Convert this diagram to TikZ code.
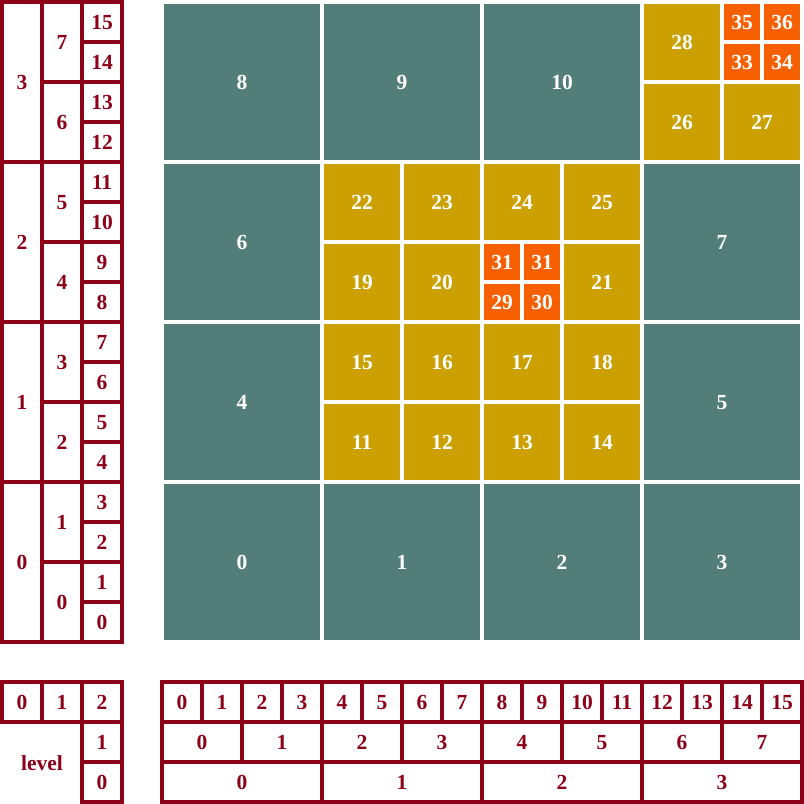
\documentclass[tikz,border=0pt]{standalone}
\usepackage{fontspec}
\setmainfont{Liberation Serif}
\definecolor{qtRed}{RGB}{140,0,24}
\definecolor{qtTeal}{RGB}{82,125,120}
\definecolor{qtGold}{RGB}{204,160,0}
\definecolor{qtOrange}{RGB}{246,96,0}

\begin{document}
\begin{tikzpicture}[
  x=1pt, y=-1pt,
  font=\fontsize{21.5}{25}\selectfont\bfseries,
  quad/.style={rectangle, draw=white, line width=3.6pt, text=white, inner sep=0pt,
    text height=15.5pt, text depth=0pt},
  q160/.style={quad, fill=qtTeal, minimum size=160pt},
  q80/.style={quad, fill=qtGold, minimum size=80pt},
  q40/.style={quad, fill=qtOrange, minimum size=40pt},
  idx/.style={rectangle, draw=qtRed, line width=3.6pt, text=qtRed, inner sep=0pt,
    text height=15.5pt, text depth=0pt, minimum width=40pt, minimum height=40pt},
]
\useasboundingbox (0,0) rectangle (804,804);

% --- Level columns, left ---------------------------------------------------
\foreach \k in {0,...,15}
  \node[idx] (lvc-\k) at (102,{622-40*\k}) {\k};
\foreach \k in {0,...,7}
  \node[idx, minimum height=80pt] (lvb-\k) at (62,{602-80*\k}) {\k};
\foreach \k in {0,...,3}
  \node[idx, minimum height=160pt] (lva-\k) at (22,{562-160*\k}) {\k};

% --- Quadtree cells --------------------------------------------------------
\foreach \n/\x/\y in {8/242/82, 9/402/82, 10/562/82, 6/242/242, 7/722/242,
                      4/242/402, 5/722/402, 0/242/562, 1/402/562, 2/562/562, 3/722/562}
  \node[q160] (c\n) at (\x,\y) {\n};
\foreach \n/\x/\y in {28/682/42, 26/682/122, 27/762/122,
                      22/362/202, 23/442/202, 19/362/282, 20/442/282,
                      24/522/202, 25/602/202, 21/602/282,
                      15/362/362, 16/442/362, 11/362/442, 12/442/442,
                      17/522/362, 18/602/362, 13/522/442, 14/602/442}
  \node[q80] (c\n) at (\x,\y) {\n};
\foreach \m/\n/\x/\y in {35/35/742/22, 36/36/782/22, 33/33/742/62, 34/34/782/62,
                         31a/31/502/262, 31b/31/542/262, 29/29/502/302, 30/30/542/302}
  \node[q40] (c\m) at (\x,\y) {\n};

% --- Key rows, bottom ------------------------------------------------------
\foreach \k in {0,...,15}
  \node[idx] (kc-\k) at ({182+40*\k},702) {\k};
\foreach \k in {0,...,7}
  \node[idx, minimum width=80pt] (kb-\k) at ({202+80*\k},742) {\k};
\foreach \k in {0,...,3}
  \node[idx, minimum width=160pt] (ka-\k) at ({242+160*\k},782) {\k};

% --- Legend ----------------------------------------------------------------
\node[idx] (key-0) at (22,702) {0};
\node[idx] (key-1) at (62,702) {1};
\node[idx] (key-2) at (102,702) {2};
\node[idx] (key-1b) at (102,742) {1};
\node[idx] (key-0b) at (102,782) {0};
\node[text=qtRed, inner sep=0pt] (keylbl) at (42,763) {level};

\end{tikzpicture}
\end{document}
